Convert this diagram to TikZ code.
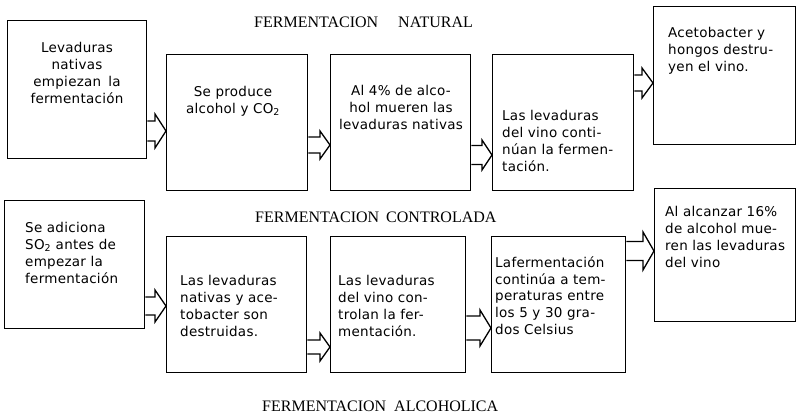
\documentclass[tikz,border=0pt]{standalone}
\usepackage{fontspec}
\usetikzlibrary{calc}
\newfontfamily\boxfont[LetterSpace=2]{DejaVu Sans}
\newfontfamily\titlefont{Liberation Serif}
\tikzset{
  box/.style={draw=black, line width=1.4pt, inner sep=0pt, anchor=north west, rectangle},
  txt/.style={inner sep=0pt, anchor=north west, align=left, font=\boxfont\fontsize{13.5}{16.7}\selectfont},
  txtc/.style={txt, anchor=north, align=center},
  ttl/.style={inner sep=0pt, anchor=base west, font=\titlefont\fontsize{16}{19}\selectfont},
  blk/.style={draw=black, line width=1.3pt, line join=miter}
}
\newcommand{\blockarr}[6]{%
  \coordinate (bs) at (#1.east |- 0,-#3);
  \coordinate (bt) at (#2.west |- 0,-#3);
  \draw[blk] ($(bs)+(0,#4)$) -- ($(bt)+(-#6,#4)$) -- ($(bt)+(-#6,#5)$) -- (bt)
     -- ($(bt)+(-#6,-#5)$) -- ($(bt)+(-#6,-#4)$) -- ($(bs)+(0,-#4)$);
}
\begin{document}
\begin{tikzpicture}[x=1pt,y=1pt]
\fill[white] (0,0) rectangle (798,-414);
\useasboundingbox (0,0) rectangle (798,-414);

% titles
\node[ttl] (t1) at (254,-28) {FERMENTACION\hspace{20pt}NATURAL};
\node[ttl] (t2) at (255,-223) {FERMENTACION\hspace{7pt}CONTROLADA};
\node[ttl] (t3) at (262,-411) {FERMENTACION\hspace{8pt}ALCOHOLICA};

% top row boxes
\node[box, minimum width=139, minimum height=138] (a1) at (7,-20) {};
\node[box, minimum width=141, minimum height=136] (a2) at (166,-54) {};
\node[box, minimum width=140, minimum height=136] (a3) at (330,-54) {};
\node[box, minimum width=141, minimum height=136] (a4) at (492,-54) {};
\node[box, minimum width=142, minimum height=138] (a5) at (653,-6) {};

% bottom row boxes
\node[box, minimum width=140, minimum height=128] (b1) at (4,-200) {};
\node[box, minimum width=140, minimum height=136] (b2) at (166,-236) {};
\node[box, minimum width=135, minimum height=136] (b3) at (330,-236) {};
\node[box, minimum width=134, minimum height=136] (b4) at (491,-236) {};
\node[box, minimum width=141, minimum height=133] (b5) at (654,-188) {};

% texts top row
\node[txtc] (ta1) at (77,-42.5) {Levaduras\\nativas\\empiezan\hspace{7pt}la\\fermentación};
\node[txtc] (ta2) at (233,-86.5) {Se produce\\alcohol y CO\textsubscript{2}};
\node[txtc] (ta3) at (401,-85.5) {Al 4\% de alco-\\hol mueren las\\levaduras nativas};
\node[txt] (ta4) at (502,-110.5) {Las levaduras\\del vino conti-\\núan la fermen-\\tación.};
\node[txt] (ta5) at (668,-27.5) {Acetobacter y\\hongos destru-\\yen el vino.};

% texts bottom row
\node[txt] (tb1) at (25,-222.5) {Se adiciona\\SO\textsubscript{2} antes de\\empezar la\\fermentación};
\node[txt] (tb2) at (180,-275.5) {Las levaduras\\nativas y ace-\\tobacter son\\destruidas.};
\node[txt] (tb3) at (338,-275.5) {Las levaduras\\del vino con-\\trolan la fer-\\mentación.};
\node[txt] (tb4) at (495,-256.5) {Lafermentación\\continúa a tem-\\peraturas entre\\los 5 y 30 gra-\\dos Celsius};
\node[txt] (tb5) at (665,-206.5) {Al alcanzar 16\%\\de alcohol mue-\\ren las levaduras\\del vino};

% block arrows
\blockarr{a1}{a2}{131}{10}{17}{11}
\blockarr{a2}{a3}{145}{8}{14}{10}
\blockarr{a3}{a4}{155}{9.5}{15}{10}
\blockarr{a4}{a5}{83}{8}{15}{11}
\blockarr{b1}{b2}{306}{9}{16}{11}
\blockarr{b2}{b3}{347}{7}{14}{10}
\blockarr{b3}{b4}{328}{12}{18}{11}
\blockarr{b4}{b5}{251}{9.5}{19}{11}
\end{tikzpicture}
\end{document}
